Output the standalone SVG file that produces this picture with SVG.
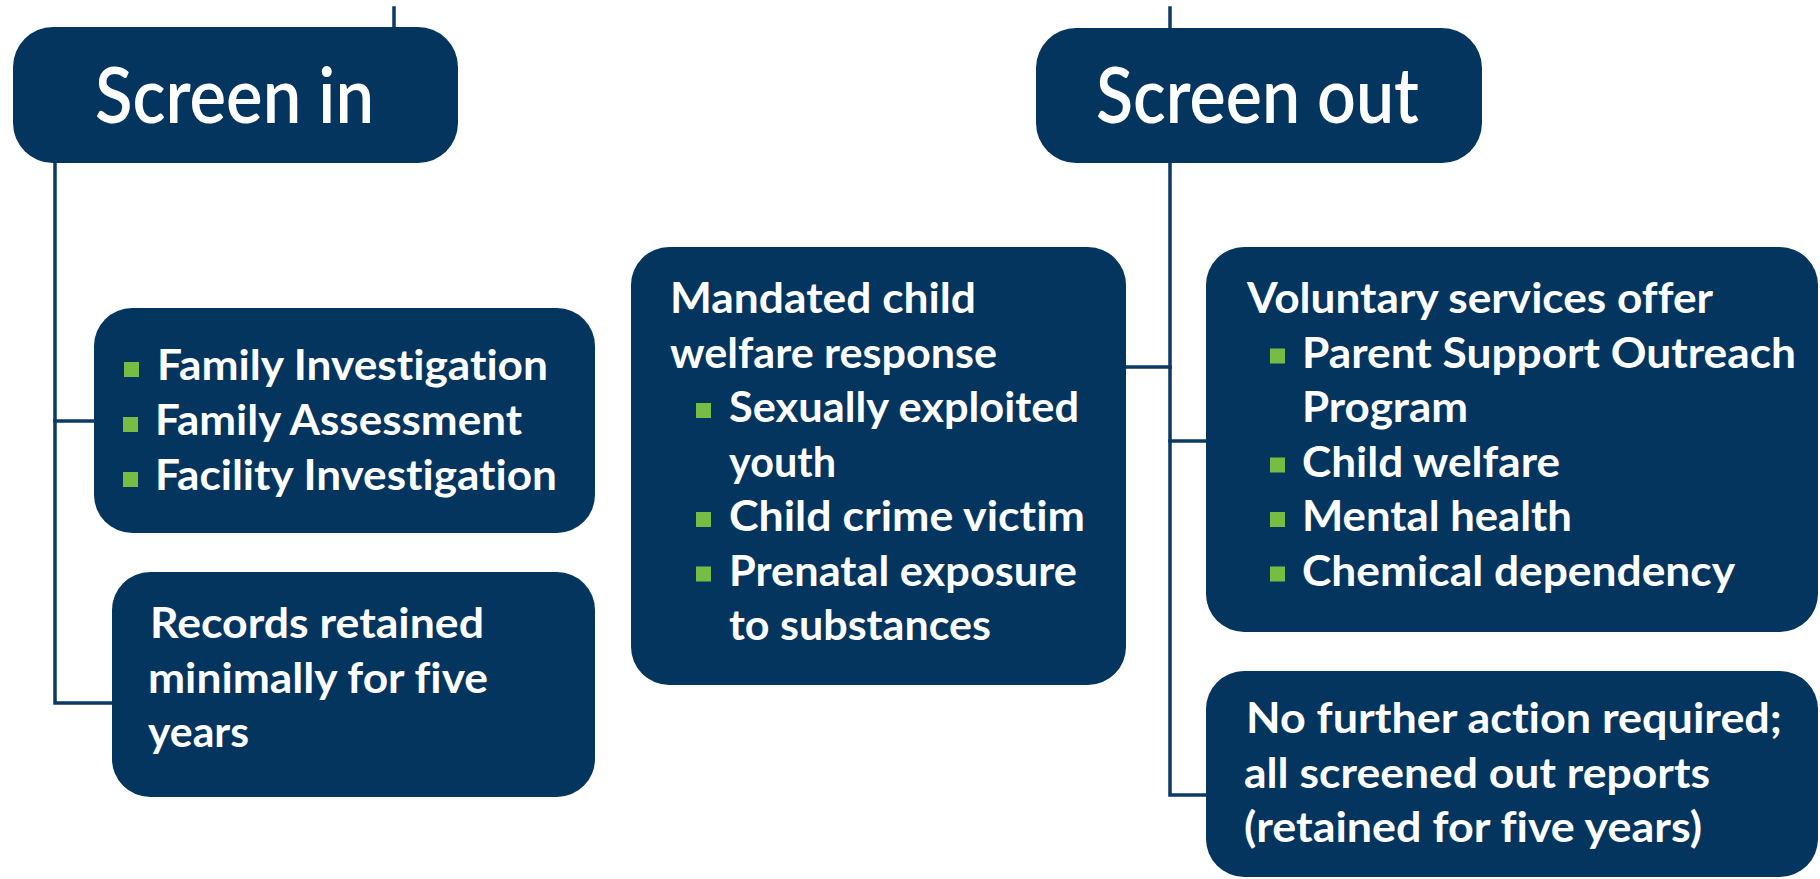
<svg xmlns="http://www.w3.org/2000/svg" width="1820" height="879" viewBox="0 0 1820 879">
  <style>
    .box { fill: #04355f; }
    .link { stroke: #0b3a64; stroke-width: 3.5; fill: none; stroke-linecap: square; }
    text { font-variant-ligatures: none; font-family: Lato, "Liberation Sans", sans-serif; fill: #ffffff; }
    .title { font-weight: 600; font-size: 77px; }
    .txt { font-weight: 700; font-size: 42px; }
    .dot { fill: #77bd43; }
  </style>
  <defs>
    <rect id="bullet" width="15" height="15" class="dot"/>
  </defs>
  <rect width="1820" height="879" fill="#ffffff"/>

  <!-- connectors -->
  <g id="connectors">
    <path class="link" d="M394 8 V30"/>
    <path class="link" d="M1170 8 V30"/>
    <path class="link" d="M55 160 V703 H112"/>
    <path class="link" d="M55 421 H95"/>
    <path class="link" d="M1170 160 V795 H1206"/>
    <path class="link" d="M1126 367 H1170"/>
    <path class="link" d="M1170 441 H1206"/>
  </g>

  <!-- Screen in -->
  <g id="screen-in">
    <rect class="box" x="13" y="27" width="445" height="136" rx="40"/>
    <text class="title" x="95" y="123" textLength="279" lengthAdjust="spacingAndGlyphs">Screen in</text>
  </g>

  <!-- Screen out -->
  <g id="screen-out">
    <rect class="box" x="1036" y="28" width="446" height="135" rx="40"/>
    <text class="title" x="1096" y="123" textLength="323" lengthAdjust="spacingAndGlyphs">Screen out</text>
  </g>

  <!-- Investigation / assessment tracks -->
  <g id="tracks">
    <rect class="box" x="94" y="308" width="501" height="225" rx="38"/>
    <use href="#bullet" x="124" y="362"/>
    <use href="#bullet" x="123" y="417"/>
    <use href="#bullet" x="123" y="472"/>
    <text class="txt" x="157" y="380" textLength="391" lengthAdjust="spacingAndGlyphs">Family Investigation</text>
    <text class="txt" x="155" y="435" textLength="367" lengthAdjust="spacingAndGlyphs">Family Assessment</text>
    <text class="txt" x="155" y="490" textLength="402" lengthAdjust="spacingAndGlyphs">Facility Investigation</text>
  </g>

  <!-- Screen-in records -->
  <g id="records-in">
    <rect class="box" x="112" y="572" width="483" height="225" rx="38"/>
    <text class="txt" x="150" y="638" textLength="334" lengthAdjust="spacingAndGlyphs">Records retained</text>
    <text class="txt" x="148" y="693" textLength="340" lengthAdjust="spacingAndGlyphs">minimally for five</text>
    <text class="txt" x="148" y="747" textLength="101" lengthAdjust="spacingAndGlyphs">years</text>
  </g>

  <!-- Mandated response -->
  <g id="mandated">
    <rect class="box" x="631" y="247" width="495" height="438" rx="38"/>
    <text class="txt" x="670" y="313" textLength="306" lengthAdjust="spacingAndGlyphs">Mandated child</text>
    <text class="txt" x="670" y="367.5" textLength="327" lengthAdjust="spacingAndGlyphs">welfare response</text>
    <use href="#bullet" x="696" y="403"/>
    <text class="txt" x="729" y="422" textLength="350" lengthAdjust="spacingAndGlyphs">Sexually exploited</text>
    <text class="txt" x="729" y="476.5" textLength="107" lengthAdjust="spacingAndGlyphs">youth</text>
    <use href="#bullet" x="696" y="512"/>
    <text class="txt" x="729" y="531" textLength="356" lengthAdjust="spacingAndGlyphs">Child crime victim</text>
    <use href="#bullet" x="696" y="566.5"/>
    <text class="txt" x="729" y="585.5" textLength="348" lengthAdjust="spacingAndGlyphs">Prenatal exposure</text>
    <text class="txt" x="729" y="640" textLength="262" lengthAdjust="spacingAndGlyphs">to substances</text>
  </g>

  <!-- Voluntary services -->
  <g id="voluntary">
    <rect class="box" x="1206" y="247" width="612" height="385" rx="38"/>
    <text class="txt" x="1247" y="313" textLength="466" lengthAdjust="spacingAndGlyphs">Voluntary services offer</text>
    <use href="#bullet" x="1270" y="348.5"/>
    <text class="txt" x="1302" y="367.5" textLength="494" lengthAdjust="spacingAndGlyphs">Parent Support Outreach</text>
    <text class="txt" x="1302" y="422" textLength="166" lengthAdjust="spacingAndGlyphs">Program</text>
    <use href="#bullet" x="1270" y="457.5"/>
    <text class="txt" x="1302" y="476.5" textLength="258" lengthAdjust="spacingAndGlyphs">Child welfare</text>
    <use href="#bullet" x="1270" y="512"/>
    <text class="txt" x="1302" y="531" textLength="270" lengthAdjust="spacingAndGlyphs">Mental health</text>
    <use href="#bullet" x="1270" y="566.5"/>
    <text class="txt" x="1302" y="585.5" textLength="433" lengthAdjust="spacingAndGlyphs">Chemical dependency</text>
  </g>

  <!-- No further action -->
  <g id="no-action">
    <rect class="box" x="1206" y="671" width="612" height="206" rx="38"/>
    <text class="txt" x="1246" y="733" textLength="536" lengthAdjust="spacingAndGlyphs">No further action required;</text>
    <text class="txt" x="1244" y="788" textLength="466" lengthAdjust="spacingAndGlyphs">all screened out reports</text>
    <text class="txt" x="1244" y="842" textLength="458" lengthAdjust="spacingAndGlyphs">(retained for five years)</text>
  </g>
</svg>
